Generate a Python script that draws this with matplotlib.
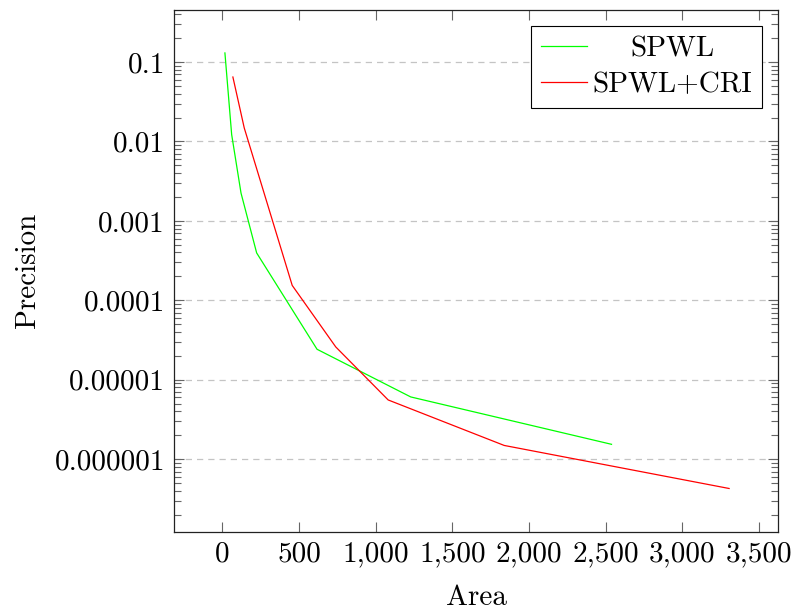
import matplotlib
matplotlib.use("Agg")
import matplotlib.pyplot as plt
import matplotlib.ticker as mticker
from matplotlib.transforms import Affine2D

# ---- data ----
spwl_area = [16, 60, 121, 223, 617, 1228, 2538]
spwl_prec = [0.13, 0.0122, 0.00224, 0.000395, 2.42e-5, 6.08e-6, 1.54e-6]

cri_area = [68, 142, 455, 739, 1081, 1838, 3305]
cri_prec = [0.0647, 0.0148, 1.54e-4, 2.59e-5, 5.57e-6, 1.49e-6, 4.28e-7]

x_ticks = [0, 500, 1000, 1500, 2000, 2500, 3000, 3500]
x_tick_labels = ["0", "500", "1,000", "1,500", "2,000", "2,500", "3,000", "3,500"]
y_ticks = [1e-1, 1e-2, 1e-3, 1e-4, 1e-5, 1e-6]
y_tick_labels = ["0.1", "0.01", "0.001", "0.0001", "0.00001", "0.000001"]

plt.rcParams["font.family"] = "cmr10"
plt.rcParams["axes.formatter.use_mathtext"] = True
FS = 21

fig = plt.figure(figsize=(7.95, 6.11), dpi=100)
ax = fig.add_axes([0.2189, 0.1301, 0.7603, 0.8535])

ax.plot(spwl_area, spwl_prec, color="#00ff00", lw=0.9, label="SPWL")
ax.plot(cri_area, cri_prec, color="#ff0000", lw=0.9, label="SPWL+CRI")

ax.set_yscale("log")
ax.set_xlim(-316, 3627)
ax.set_ylim(1.23e-7, 0.451)

ax.set_xticks(x_ticks)
ax.set_xticklabels(x_tick_labels)
ax.xaxis.set_minor_locator(mticker.NullLocator())
ax.set_yticks(y_ticks)
ax.set_yticklabels(y_tick_labels)
ax.yaxis.set_minor_locator(mticker.LogLocator(base=10, subs=range(2, 10), numticks=20))
ax.yaxis.set_minor_formatter(mticker.NullFormatter())

ax.tick_params(which="both", direction="in", top=True, right=True,
               color="#666666", width=0.8, labelsize=FS)
ax.tick_params(which="major", length=7.5)
ax.tick_params(which="minor", length=5)
ax.tick_params(axis="y", pad=6.5)
ax.tick_params(axis="x", pad=7)

for sp in ax.spines.values():
    sp.set_linewidth(0.9)
    sp.set_color("#222222")

ax.grid(axis="y", which="major", linestyle=(0, (5, 4)), color="#c4c4c4", lw=0.9)
ax.set_axisbelow(True)

ax.set_xlabel("Area", fontsize=FS, labelpad=12)
ax.set_ylabel("Precision", fontsize=FS, labelpad=10)

leg = ax.legend(loc="upper right", fontsize=FS, frameon=True, fancybox=False,
                edgecolor="black", framealpha=1, borderaxespad=0.55,
                handlelength=1.57, handletextpad=0.19, labelspacing=0.3,
                borderpad=0.35)
leg.get_frame().set_linewidth(0.8)

# centre the shorter legend entry like pgfplots does
fig.canvas.draw()
renderer = fig.canvas.get_renderer()
texts = leg.get_texts()
widths = [t.get_window_extent(renderer).width for t in texts]
wmax = max(widths)
for t, w in zip(texts, widths):
    dx = (wmax - w) / 2
    if dx > 0:
        t.set_transform(t.get_transform() + Affine2D().translate(dx, 0))

fig.savefig("out.png", dpi=100)
